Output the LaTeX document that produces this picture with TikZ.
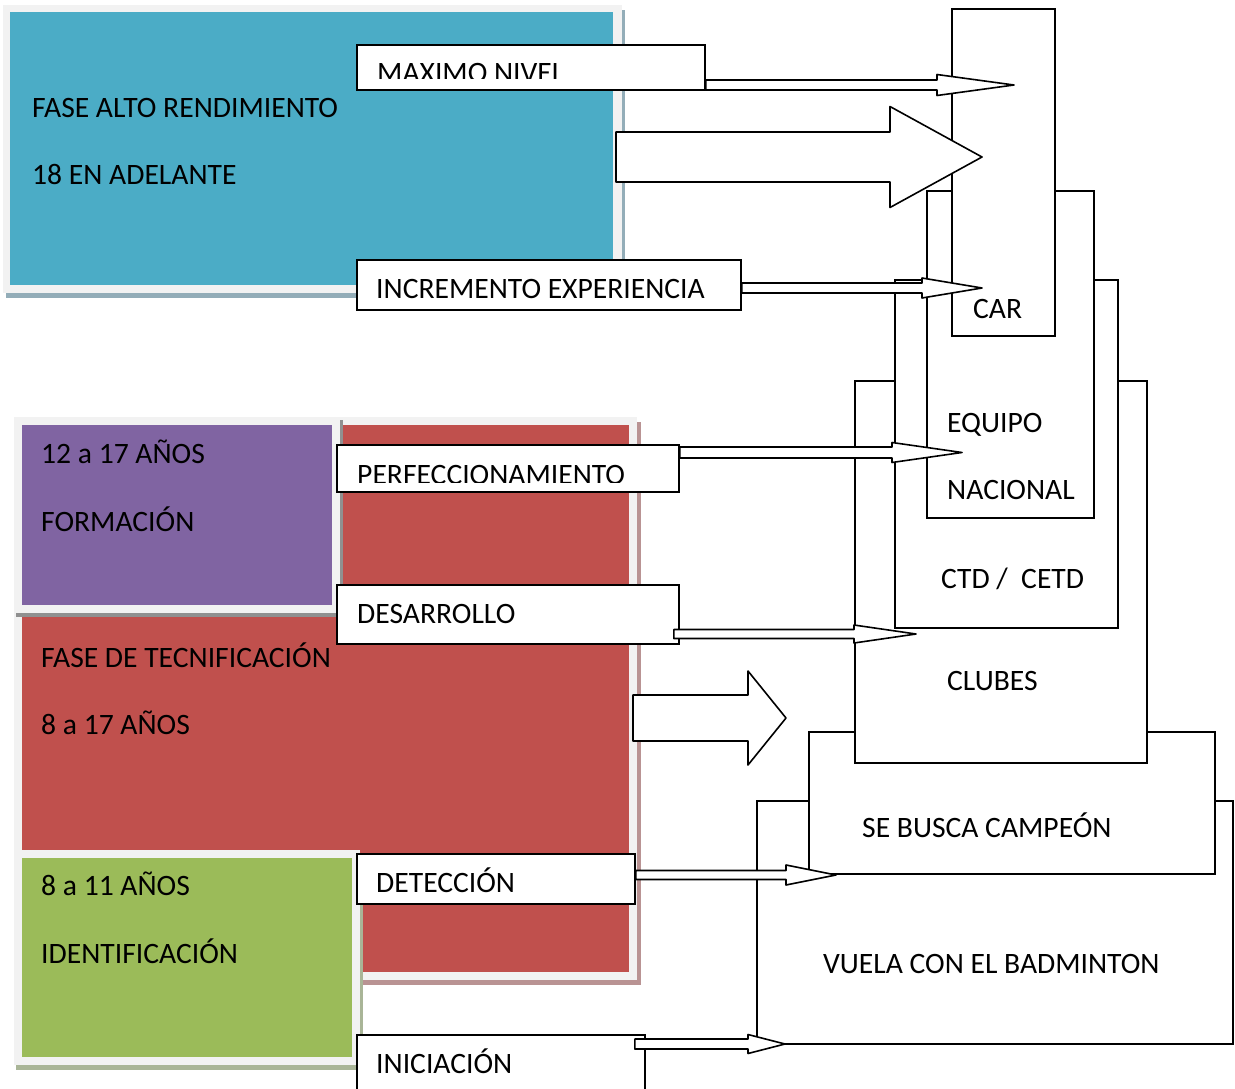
\documentclass[tikz,border=0pt]{standalone}
\usepackage{fontspec}
\setmainfont{Carlito}
\usetikzlibrary{calc}

\definecolor{azul}{HTML}{4BACC6}
\definecolor{rojo}{HTML}{C0504D}
\definecolor{morado}{HTML}{8064A2}
\definecolor{verde}{HTML}{9BBB59}
\definecolor{marco}{HTML}{F2F2F2}
\definecolor{sombraazul}{HTML}{93ADB8}
\definecolor{sombrarojo}{HTML}{B99393}
\definecolor{sombramorado}{HTML}{909090}
\definecolor{sombraverde}{HTML}{A9B597}

\tikzset{
  etapa/.style={draw, fill=white, line width=1.8pt, inner sep=0pt, anchor=north west},
  rotulo/.style={etapa},
  texto/.style={inner sep=0pt, anchor=base west, font=\fontsize{29.6}{35}\selectfont},
  bloque/.style={draw, fill=white, line width=1.6pt, line join=round},
}

% block arrow: start, tip, shaft half height, head half height, head length
\newcommand{\flechabloque}[5]{%
  \draw[bloque] let \p1=#1, \p2=#2 in
    ({\x1},{\y2+#3pt}) -- ({\x2-#5pt},{\y2+#3pt}) -- ({\x2-#5pt},{\y2+#4pt})
    -- (\x2,\y2) -- ({\x2-#5pt},{\y2-#4pt}) -- ({\x2-#5pt},{\y2-#3pt})
    -- ({\x1},{\y2-#3pt}) -- cycle;}

\begin{document}
\begin{tikzpicture}[x=1pt, y=-1pt]
    \useasboundingbox (0,0) rectangle (1235,1088);
    \clip (0,0) rectangle (1235,1088);

    % panels
    \fill[sombraazul] (6,10) rectangle (625,298);
    \fill[marco] (3,5) rectangle (622,293);
    \fill[azul] (10,12) rectangle (613,285);
    \node[texto] (faseAlto) at (32,117) {FASE ALTO RENDIMIENTO};
    \node[texto] (edadAlto) at (32,184) {18 EN ADELANTE};

    \fill[sombrarojo] (17,422) rectangle (641,985);
    \fill[marco] (14,417) rectangle (637,980);
    \fill[rojo] (22,425) rectangle (629,972);
    \fill[sombramorado] (16,420) rectangle (343,617);
    \fill[marco] (14,417) rectangle (340,613);
    \fill[morado] (22,425) rectangle (332,605);
    \fill[sombraverde] (16,854) rectangle (363,1070);
    \fill[marco] (14,850) rectangle (360,1065);
    \fill[verde] (22,858) rectangle (352,1057);
    \node[texto] (edadForm) at (41,463) {12 a 17 AÑOS};
    \node[texto] (formacion) at (41,531) {FORMACIÓN};
    \node[texto] (faseTec) at (41,667) {FASE DE TECNIFICACIÓN};
    \node[texto] (edadTec) at (41,734) {8 a 17 AÑOS};
    \node[texto] (edadIdent) at (41,895) {8 a 11 AÑOS};
    \node[texto] (identificacion) at (41,963) {IDENTIFICACIÓN};

    % stacked levels
    \node[etapa, minimum width=476, minimum height=243] (vuela) at (756,800) {};
    \node[etapa, minimum width=406, minimum height=142] (busca) at (808,731) {};
    \node[etapa, minimum width=292, minimum height=382] (clubes) at (854,380) {};
    \node[etapa, minimum width=223, minimum height=348] (ctd) at (894,279) {};
    \node[etapa, minimum width=167, minimum height=327] (equipo) at (926,190) {};
    \node[etapa, minimum width=103, minimum height=327] (car) at (951,8) {};
    \node[texto] (tCar) at (973,318) {CAR};
    \node[texto] (tEquipo) at (947,432) {EQUIPO};
    \node[texto] (tNacional) at (947,499) {NACIONAL};
    \node[texto] (tCtd) at (941,588) {CTD /\ \ CETD};
    \node[texto] (tClubes) at (947,690) {CLUBES};
    \node[texto] (tBusca) at (862,837) {SE BUSCA CAMPEÓN};
    \node[texto] (tVuela) at (823,973) {VUELA CON EL BADMINTON};

    % labels
    \node[rotulo, minimum width=348, minimum height=45] (maxNivel) at (356,44) {};
    \node[rotulo, minimum width=384, minimum height=50] (incremento) at (356,259) {};
    \node[rotulo, minimum width=342, minimum height=47] (perfecc) at (336,444) {};
    \node[rotulo, minimum width=342, minimum height=59] (desarrollo) at (336,584) {};
    \node[rotulo, minimum width=278, minimum height=50] (deteccion) at (356,853) {};
    \node[rotulo, minimum width=288, minimum height=70] (iniciacion) at (356,1034) {};
    \begin{scope}
        \clip (358,46) rectangle (702,78.5);
        \node[texto] (tMaxNivel) at (377,82.5) {MAXIMO NIVEL};
    \end{scope}
    \node[texto] (tIncremento) at (376,298) {INCREMENTO EXPERIENCIA};
    \begin{scope}
        \clip (338,446) rectangle (676,482.5);
        \node[texto] (tPerfecc) at (357,484) {PERFECCIONAMIENTO};
    \end{scope}
    \node[texto] (tDesarrollo) at (357,623) {DESARROLLO};
    \node[texto] (tDeteccion) at (376,892) {DETECCIÓN};
    \node[texto] (tIniciacion) at (376,1073) {INICIACIÓN};

    % arrows
    \coordinate (pCar) at (1014,85);
    \coordinate (pCarB) at (982,288);
    \coordinate (pCarC) at (982,157);
    \coordinate (salidaAlto) at (616,157);
    \coordinate (pEquipo) at (962,452.5);
    \coordinate (pCtd) at (916,634);
    \coordinate (pClubes) at (786,718);
    \coordinate (salidaTec) at (633,718);
    \coordinate (pBusca) at (836,875);
    \coordinate (pVuela) at (785,1044);
    \flechabloque{(maxNivel.east |- pCar)}{(pCar)}{5}{10.5}{77}
    \flechabloque{(salidaAlto)}{(pCarC)}{25}{50.5}{92}
    \flechabloque{(incremento.east |- pCarB)}{(pCarB)}{5}{10}{60}
    \flechabloque{(perfecc.east |- pEquipo)}{(pEquipo)}{5.5}{10}{70}
    \flechabloque{([xshift=-6pt]desarrollo.east |- pCtd)}{(pCtd)}{4.5}{9}{62}
    \flechabloque{(salidaTec)}{(pClubes)}{23}{47}{38}
    \flechabloque{(deteccion.east |- pBusca)}{(pBusca)}{4.5}{10}{50}
    \flechabloque{([xshift=-11pt]iniciacion.east |- pVuela)}{(pVuela)}{5}{9.5}{37}
\end{tikzpicture}
\end{document}
